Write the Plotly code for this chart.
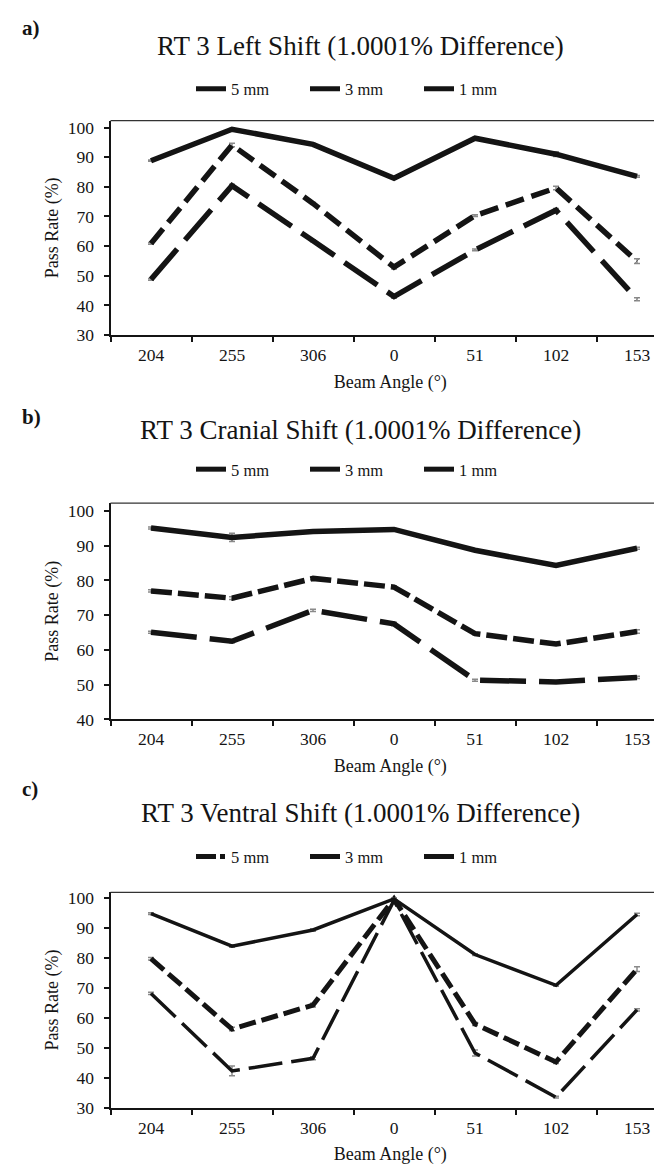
import plotly.graph_objects as go

# ---------------- data ----------------
angles = ["204", "255", "306", "0", "51", "102", "153"]
series_names = ["5 mm", "3 mm", "1 mm"]

# a) Left shift
left_5mm = [48.8, 80.4, 61.8, 43.0, 58.7, 72.1, 42.1]
left_3mm = [60.9, 94.1, 74.4, 52.9, 70.3, 79.6, 54.9]
left_1mm = [88.8, 99.4, 94.3, 82.9, 96.4, 91.0, 83.5]
left_5mm_err = [0.3, 0.5, 0.3, 0.6, 0.3, 0.6, 0.5]
left_3mm_err = [0.3, 0.6, 0.3, 0.6, 0.3, 0.6, 0.8]
left_1mm_err = [0.2, 0.3, 0.3, 0.3, 0.2, 0.8, 0.3]

# b) Cranial shift
cran_5mm = [65.1, 62.5, 71.4, 67.5, 51.3, 50.8, 52.1]
cran_3mm = [77.0, 74.9, 80.6, 78.1, 64.7, 61.7, 65.3]
cran_1mm = [95.1, 92.4, 94.1, 94.7, 88.7, 84.3, 89.3]
cran_5mm_err = [0.3, 0.4, 0.3, 0.5, 0.3, 0.3, 0.3]
cran_3mm_err = [0.3, 0.4, 0.4, 0.4, 0.3, 0.3, 0.5]
cran_1mm_err = [0.3, 1.2, 0.3, 0.3, 0.3, 0.3, 0.3]

# c) Ventral shift
vent_5mm = [68.2, 42.3, 46.5, 99.3, 48.3, 33.5, 62.7]
vent_3mm = [79.8, 56.3, 64.3, 99.8, 58.0, 45.3, 76.3]
vent_1mm = [94.9, 84.0, 89.4, 99.8, 81.2, 70.9, 94.6]
vent_5mm_err = [0.4, 1.6, 0.5, 0.3, 1.0, 0.3, 0.4]
vent_3mm_err = [0.4, 0.6, 0.6, 0.3, 0.5, 0.5, 0.8]
vent_1mm_err = [0.3, 0.4, 0.4, 0.3, 0.3, 0.3, 0.4]

titles = ["RT 3 Left Shift (1.0001% Difference)",
          "RT 3 Cranial Shift (1.0001% Difference)",
          "RT 3 Ventral Shift (1.0001% Difference)"]
letters = ["a)", "b)", "c)"]
y_ranges = [[30, 102.3], [40, 102.3], [30, 102.0]]

# ---------------- layout helpers ----------------
W, H = 662, 1167
SERIF = "Liberation Serif"
INK = "#141414"

def py(px):
    return 1 - px / H

# plot boxes (top, bottom) in px
boxes = [(110, 327), (497, 716), (891, 1109)]
x_left = 102.5 / W
cat_px = 81.0
x_range = [-0.5, -0.5 + (W - 102.5) / cat_px]
title_y = [34, 423, 811]
legend_y = [78, 463, 855]
letter_y = [16, 410, 786]

panels = [
    (left_5mm, left_3mm, left_1mm, left_5mm_err, left_3mm_err, left_1mm_err),
    (cran_5mm, cran_3mm, cran_1mm, cran_5mm_err, cran_3mm_err, cran_1mm_err),
    (vent_5mm, vent_3mm, vent_1mm, vent_5mm_err, vent_3mm_err, vent_1mm_err),
]

# line styles per panel: (width, dash) for 5mm, 3mm, 1mm
styles = [
    [(5.5, "40px,12px"), (5.5, "19px,8px"), (5.5, "solid")],
    [(5.5, "46px,13px"), (5.5, "21px,6px"), (5.5, "solid")],
    [(3.5, "34px,9px"), (5, "17px,6px"), (3.5, "solid")],
]
legend_dash = [
    ["solid", "solid", "solid"],
    ["solid", "solid", "solid"],
    ["20px,4px,5px,20px", "solid", "solid"],
]

fig = go.Figure()
shapes = []
annotations = []

for i, (s5, s3, s1, e5, e3, e1) in enumerate(panels):
    xa = "x" if i == 0 else f"x{i+1}"
    ya = "y" if i == 0 else f"y{i+1}"
    lg = "legend" if i == 0 else f"legend{i+1}"
    vals = [s5, s3, s1]
    errs = [e5, e3, e1]
    for k in range(3):
        w, d = styles[i][k]
        fig.add_trace(go.Scatter(
            x=angles, y=vals[k], mode="lines", name=series_names[k],
            xaxis=xa, yaxis=ya, showlegend=False,
            line=dict(color=INK, width=w, dash=d),
            error_y=dict(type="data", array=errs[k], visible=True,
                         color="#8a8a8a", thickness=1.5, width=3),
        ))
    # legend entries
    for k in range(3):
        fig.add_trace(go.Scatter(
            x=[None], y=[None], mode="lines", name=series_names[k],
            xaxis=xa, yaxis=ya, legend=lg, showlegend=True,
            line=dict(color=INK, width=5, dash=legend_dash[i][k]),
        ))

    top, bot = boxes[i]
    xkey = "xaxis" if i == 0 else f"xaxis{i+1}"
    ykey = "yaxis" if i == 0 else f"yaxis{i+1}"
    fig.update_layout(**{
        xkey: dict(
            domain=[x_left, 1], anchor=ya, type="category",
            categoryorder="array", categoryarray=angles,
            range=x_range, tickson="boundaries", ticks="outside",
            ticklen=5, tickwidth=1.5, tickcolor=INK,
            showline=True, linecolor=INK, linewidth=2,
            showgrid=False, zeroline=False, ticklabelstandoff=3,
            tickfont=dict(family=SERIF, size=17.5, color=INK),
            title=dict(text="Beam Angle (°)", standoff=11,
                       font=dict(family=SERIF, size=18, color=INK)),
        ),
        ykey: dict(
            domain=[py(bot), py(top)], anchor=xa,
            range=y_ranges[i], tickmode="linear", tick0=0, dtick=10,
            ticks="outside", ticklen=5, tickwidth=1.5, tickcolor=INK,
            showline=True, linecolor=INK, linewidth=2,
            showgrid=False, zeroline=False, ticklabelstandoff=6,
            tickfont=dict(family=SERIF, size=17.5, color=INK),
            title=dict(text="Pass Rate (%)", standoff=4,
                       font=dict(family=SERIF, size=18, color=INK)),
        ),
        lg: dict(
            orientation="h", x=354 / W, xanchor="center",
            y=py(legend_y[i]), yanchor="middle",
            font=dict(family=SERIF, size=16.5, color=INK),
            bgcolor="rgba(0,0,0,0)", itemwidth=30, entrywidth=69,
            tracegroupgap=0,
        ),
    })
    # top border of plot area
    shapes.append(dict(type="line", xref=f"{xa} domain", yref=f"{ya} domain",
                       x0=0, x1=1, y0=1, y1=1,
                       line=dict(color="#333333", width=1.2)))
    annotations.append(dict(text=titles[i], xref="paper", yref="paper",
                            x=352 / W, y=py(title_y[i]), xanchor="center",
                            yanchor="middle", showarrow=False,
                            font=dict(family=SERIF, size=27, color=INK)))
    annotations.append(dict(text=f"<b>{letters[i]}</b>", xref="paper", yref="paper",
                            x=12 / W, y=py(letter_y[i]), xanchor="left",
                            yanchor="middle", showarrow=False,
                            font=dict(family=SERIF, size=21, color=INK)))

fig.update_layout(
    width=W, height=H, margin=dict(l=0, r=0, t=0, b=0),
    paper_bgcolor="white", plot_bgcolor="white",
    shapes=shapes, annotations=annotations,
)

fig.write_html("out.html")
